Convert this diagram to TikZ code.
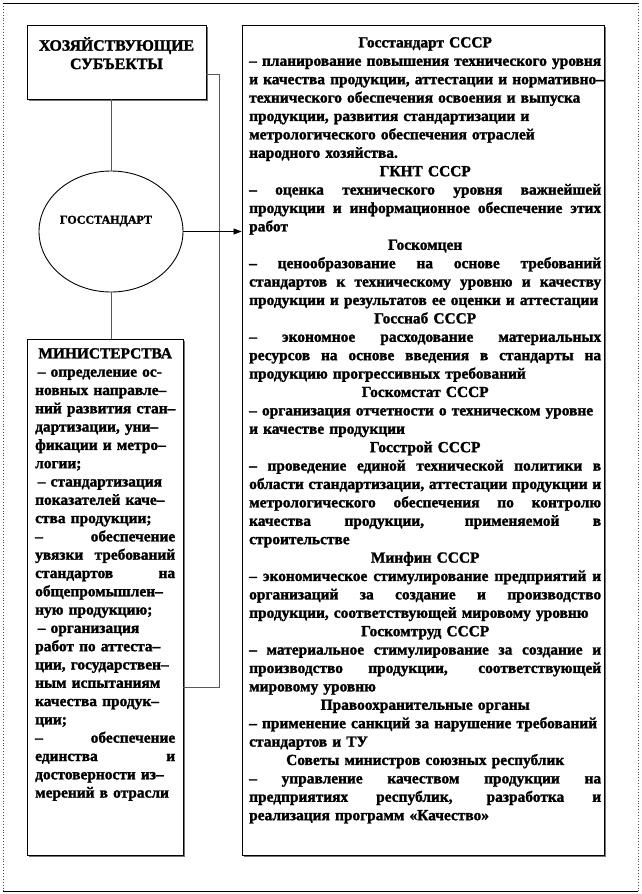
\documentclass[tikz,border=0pt]{standalone}
\usepackage{fontspec}
\setmainfont{Liberation Serif}[BoldFeatures={FakeBold=1.6}]
\usetikzlibrary{arrows.meta,shapes.geometric}
\tikzset{
  box/.style={draw=black, line width=0.9pt, fill=white, inner sep=0pt},
  shade/.style={fill=black!55},
  conn/.style={draw=black!65, line width=0.7pt},
  txt/.style={inner sep=0pt, align=left, font=\bfseries\fontsize{15.4}{18.4}\selectfont},
}
\newcommand\Lj[1]{\leavevmode\hbox to \hsize{\spaceskip=.28em plus 20em minus .05em\xspaceskip=\spaceskip #1}}
\newcommand\Lc[1]{\leavevmode\hbox to \hsize{\hss #1\hss}}
\newcommand\Lr[1]{\mbox{#1}}
\begin{document}
\begin{tikzpicture}[x=1pt,y=-1pt]
\useasboundingbox (0,0) rectangle (642,894);
\fill[white] (0,0) rectangle (642,894);
% outer frame
\draw[black!70, dotted, line width=0.9pt] (3,3) -- (3,891) (638,3) -- (638,891);
\draw[black, line width=0.8pt] (3,3) -- (638,3) (3,891) -- (638,891);

% shadows
\fill[shade] (28.5,26.5) rectangle (207.5,100.5);
\fill[shade] (28.5,340.5) rectangle (184.5,856.5);
\fill[shade] (243.5,26.5) rectangle (605.5,856.5);

% boxes
\node[box, minimum width=179pt, minimum height=74pt] (subj) at (116.5,62) {};
\node[box, ellipse, minimum width=144pt, minimum height=121pt] (ell) at (111,231.5) {};
\node[box, minimum width=156pt, minimum height=516pt] (mins) at (105,597) {};
\node[box, minimum width=362pt, minimum height=830pt] (right) at (423,440) {};

% connectors
\draw[conn] (subj.south -| ell.north) -- (ell.north);
\draw[conn] (ell.south) -- (mins.north -| ell.south);
\coordinate (bt) at (219,74);
\coordinate (bb) at (219,687);
\draw[conn] (subj.east |- bt) -- (bt) -- (bb) -- (mins.east |- bb);
\draw[black, line width=0.7pt, -{Triangle[length=8pt,width=6pt]}] (ell.east) -- (right.west |- ell.east);

% texts
\node[txt, align=center, anchor=north, font=\bfseries\fontsize{15.8}{18.4}\selectfont] (subjtext) at (116.5,37) {ХОЗЯЙСТВУЮЩИЕ\\СУБЪЕКТЫ};
\node[inner sep=0pt, font=\bfseries\fontsize{12}{14}\selectfont] (elltext) at (106,221) {ГОССТАНДАРТ};

\node[txt, text width=352pt, anchor=north west] (righttext) at (249,37) {%
\Lc{Госстандарт СССР}\\
\Lr{– планирование повышения технического уровня}\\
\Lr{и качества продукции, аттестации и нормативно–}\\
\Lr{технического обеспечения освоения и выпуска}\\
\Lr{продукции, развития стандартизации и}\\
\Lr{метрологического обеспечения отраслей}\\
\Lr{народного хозяйства.}\\
\Lc{ГКНТ СССР}\\
\Lj{– оценка технического уровня важнейшей}\\
\Lj{продукции и информационное обеспечение этих}\\
\Lr{работ}\\
\Lc{Госкомцен}\\
\Lj{– ценообразование на основе требований}\\
\Lj{стандартов к техническому уровню и качеству}\\
\Lr{продукции и результатов ее оценки и аттестации}\\
\Lc{Госснаб СССР}\\
\Lj{– экономное расходование материальных}\\
\Lj{ресурсов на основе введения в стандарты на}\\
\Lr{продукцию прогрессивных требований}\\
\Lc{Госкомстат СССР}\\
\Lr{– организация отчетности о техническом уровне}\\
\Lr{и качестве продукции}\\
\Lc{Госстрой СССР}\\
\Lj{– проведение единой технической политики в}\\
\Lj{области стандартизации, аттестации продукции и}\\
\Lj{метрологического обеспечения по контролю}\\
\Lj{качества продукции, применяемой в}\\
\Lr{строительстве}\\
\Lc{Минфин СССР}\\
\Lj{– экономическое стимулирование предприятий и}\\
\Lj{организаций за создание и производство}\\
\Lr{продукции, соответствующей мировому уровню}\\
\Lc{Госкомтруд СССР}\\
\Lj{– материальное стимулирование за создание и}\\
\Lj{производство продукции, соответствующей}\\
\Lr{мировому уровню}\\
\Lc{Правоохранительные органы}\\
\Lr{– применение санкций за нарушение требований}\\
\Lr{стандартов и ТУ}\\
\Lc{Советы министров союзных республик}\\
\Lj{– управление качеством продукции на}\\
\Lj{предприятиях республик, разработка и}\\
\Lr{реализация программ «Качество»}};

\node[txt, text width=140pt, anchor=north west, font=\bfseries\fontsize{15.4}{18.3}\selectfont] (minstext) at (35,348) {%
\Lc{МИНИСТЕРСТВА}\\
\Lr{\,– определение ос-}\\
\Lr{новных направле–}\\
\Lr{ний развития стан–}\\
\Lr{дартизации, уни–}\\
\Lr{фикации и метро–}\\
\Lr{логии;}\\
\Lr{\,– стандартизация}\\
\Lr{показателей каче–}\\
\Lr{ства продукции;}\\
\Lj{– обеспечение}\\
\Lj{увязки требований}\\
\Lj{стандартов на}\\
\Lr{общепромышлен–}\\
\Lr{ную продукцию;}\\
\Lr{\,– организация}\\
\Lr{работ по аттеста–}\\
\Lr{ции, государствен–}\\
\Lr{ным испытаниям}\\
\Lr{качества продук–}\\
\Lr{ции;}\\
\Lj{– обеспечение}\\
\Lj{единства и}\\
\Lr{достоверности из–}\\
\Lr{мерений в отрасли}};
\end{tikzpicture}
\end{document}
